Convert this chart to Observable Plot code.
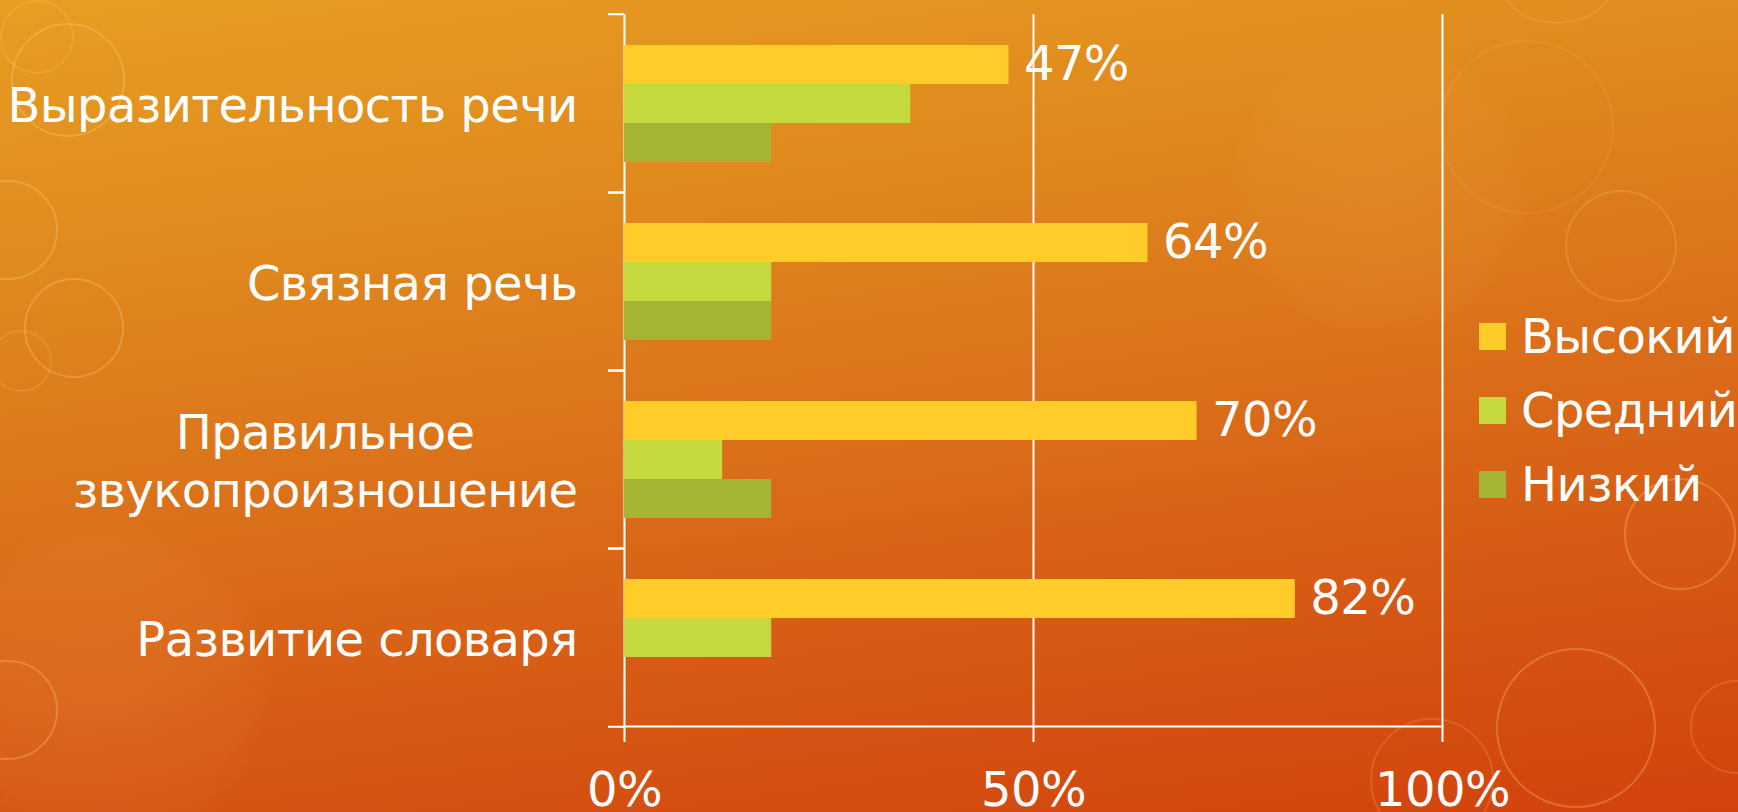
<!DOCTYPE html>
<html>
<head>
<meta charset="utf-8">
<script src="https://cdn.jsdelivr.net/npm/d3@7"></script>
<script src="https://cdn.jsdelivr.net/npm/@observablehq/plot@0.6"></script>
<style>
  html, body { margin: 0; padding: 0; }
  body { width: 1738px; height: 812px; overflow: hidden; font-family: "DejaVu Sans", Verdana, sans-serif; }
  #stage {
    position: relative; width: 1738px; height: 812px; overflow: hidden;
    background: linear-gradient(172deg, #E79E22 0%, #E08A1E 25%, #DB721A 50%, #D65814 75%, #D2420B 100%);
  }
  .bub { position: absolute; border-radius: 50%; border: 2px solid rgba(255, 214, 140, 0.28); }
  .bubf { position: absolute; border-radius: 50%; background: radial-gradient(circle, rgba(255,190,110,0.10) 0%, rgba(255,190,110,0.05) 60%, rgba(255,190,110,0) 72%); }
  #chart { position: absolute; left: 0; top: 0; }
  #chart text { letter-spacing: -0.6px; }
  #legend { position: absolute; left: 1479px; top: 299px; color: white; font-size: 48px; letter-spacing: -0.6px; }
  .lg-row { display: flex; align-items: center; height: 74px; }
  .lg-sw { width: 27px; height: 27px; margin-right: 15px; flex: none; }
</style>
</head>
<body>
<div id="stage">
  <div class="bubf" style="left:-60px;top:520px;width:330px;height:330px"></div>
  <div class="bubf" style="left:1230px;top:40px;width:300px;height:300px"></div>
  <div class="bub" style="left:11px;top:23px;width:110px;height:110px"></div>
  <div class="bub" style="left:0px;top:0px;width:70px;height:70px;opacity:0.6"></div>
  <div class="bub" style="left:-42px;top:180px;width:96px;height:96px"></div>
  <div class="bub" style="left:24px;top:278px;width:96px;height:96px"></div>
  <div class="bub" style="left:-10px;top:330px;width:58px;height:58px;opacity:0.6"></div>
  <div class="bub" style="left:-42px;top:660px;width:96px;height:96px"></div>
  <div class="bub" style="left:1496px;top:648px;width:156px;height:156px"></div>
  <div class="bub" style="left:1370px;top:718px;width:120px;height:120px;opacity:0.6"></div>
  <div class="bub" style="left:1624px;top:478px;width:108px;height:108px"></div>
  <div class="bub" style="left:1565px;top:190px;width:108px;height:108px;opacity:0.7"></div>
  <div class="bub" style="left:1440px;top:40px;width:170px;height:170px;opacity:0.4"></div>
  <div class="bub" style="left:1500px;top:-60px;width:110px;height:80px;opacity:0.6"></div>
  <div class="bub" style="left:1690px;top:680px;width:90px;height:90px;opacity:0.6"></div>
  <div id="chart"></div>
  <div id="legend"></div>
</div>
<script>
// ---- data ----
const categories = ["Выразительность речи", "Связная речь", "Правильное звукопроизношение", "Развитие словаря"];
const levels = ["Высокий", "Средний", "Низкий"];
const highValues = [47, 64, 70, 82];
const midValues = [35, 18, 12, 18];
const lowValues = [18, 18, 18, 0];
const xTicks = [0, 50, 100];
const xTickLabels = ["0%", "50%", "100%"];
const categoryLabels = ["Выразительность речи", "Связная речь", "Правильное\nзвукопроизношение", "Развитие словаря"];
const levelColors = ["#FFCC29", "#C5D83E", "#A3B532"];

const seriesValues = [highValues, midValues, lowValues];
const rows = categories.flatMap((cat, i) =>
  levels.map((level, j) => ({cat, level, value: seriesValues[j][i]}))
);

// ---- layout ----
const W = 1738, H = 812;
const mTop = 13, mBottom = 85, mLeft = 624, mRight = 296;
const halfBand = (H - mTop - mBottom) / categories.length / 2;
const white = "white";
const font = "'DejaVu Sans', Verdana, sans-serif";

const chart = Plot.plot({
  width: W,
  height: H,
  marginTop: mTop,
  marginBottom: mBottom,
  marginLeft: mLeft,
  marginRight: mRight,
  style: {background: "transparent", color: white, fontFamily: font, fontSize: "48px", overflow: "visible"},
  x: {domain: [0, 100]},
  y: {domain: levels, paddingInner: 0, paddingOuter: 0.75, axis: null},
  fy: {domain: categories, padding: 0},
  color: {domain: levels, range: levelColors},
  marks: [
    Plot.ruleX(xTicks, {stroke: white, strokeWidth: 2}),
    Plot.frame({anchor: "bottom", facetAnchor: "bottom", stroke: white, strokeWidth: 2}),
    Plot.barX(rows, {fy: "cat", y: "level", x: "value", fill: "level"}),
    Plot.text(rows.filter(d => d.level === levels[0]), {
      fy: "cat", y: "level", x: "value", text: d => d.value + "%",
      textAnchor: "start", dx: 15, fill: white, fontSize: 48
    }),
    Plot.axisX({
      ticks: xTicks, tickFormat: (d, i) => xTickLabels[xTicks.indexOf(d)],
      tickSize: 16, tickPadding: 29, stroke: white, strokeWidth: 2, fill: white,
      fontSize: 48, label: null
    }),
    Plot.axisFy({anchor: "left", tickSize: 16, dy: -halfBand, tickFormat: () => "", stroke: white, strokeWidth: 2, label: null}),
    Plot.axisFy({anchor: "left", tickSize: 16, dy: halfBand, tickFormat: () => "", stroke: white, strokeWidth: 2, label: null}),
    Plot.axisFy({
      anchor: "left", tickSize: 0, tickPadding: 47,
      tickFormat: d => categoryLabels[categories.indexOf(d)],
      fill: white, fontSize: 48, lineHeight: 1.2, label: null
    })
  ]
});
document.getElementById("chart").appendChild(chart);

// center multi-line category labels as a block (like the original)
chart.querySelectorAll("text").forEach(t => {
  const spans = t.querySelectorAll("tspan");
  if (spans.length > 1) {
    const w = t.getBBox().width;
    t.setAttribute("text-anchor", "middle");
    spans.forEach(s => s.setAttribute("x", -w / 2));
  }
});

// legend
const legend = document.getElementById("legend");
levels.forEach((lv, i) => {
  const row = document.createElement("div");
  row.className = "lg-row";
  const sw = document.createElement("div");
  sw.className = "lg-sw";
  sw.style.background = levelColors[i];
  const tx = document.createElement("span");
  tx.textContent = lv;
  row.appendChild(sw);
  row.appendChild(tx);
  legend.appendChild(row);
});
</script>
</body>
</html>
